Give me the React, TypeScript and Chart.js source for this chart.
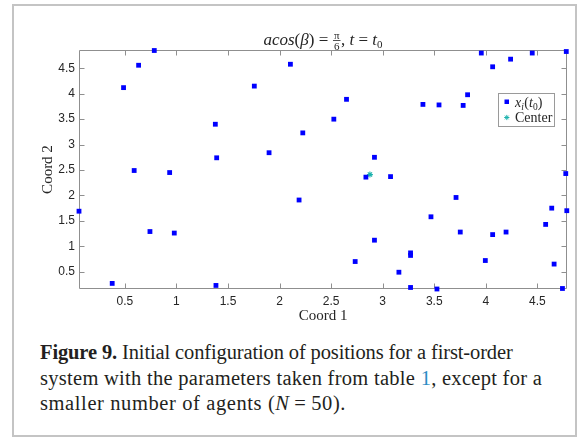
import React, { useEffect, useRef } from "react";
import { Chart, registerables } from "chart.js";

Chart.register(...registerables);

// ---- data ----
const agentX = [
  0.055, 0.377, 0.487, 0.633, 0.785, 0.59, 0.934, 1.377, 1.39, 0.743,
  0.979, 1.383, 2.105, 1.755, 2.649, 2.526, 2.225, 1.898, 2.92, 2.837,
  3.076, 2.189, 2.92, 2.733, 3.27, 3.27, 3.157, 3.27, 3.526, 3.468,
  3.711, 3.752, 3.995, 4.066, 4.196, 4.58, 4.639, 4.662, 4.743, 4.785,
  4.775, 3.39, 3.546, 3.78, 3.823, 3.956, 4.066, 4.24, 4.45, 4.78,
];
const agentY = [
  1.69, 0.27, 4.12, 4.56, 4.85, 2.49, 2.45, 3.4, 2.74, 1.29,
  1.26, 0.23, 4.58, 4.15, 3.89, 3.5, 3.23, 2.84, 2.75, 2.36,
  2.37, 1.91, 1.12, 0.7, 0.87, 0.82, 0.49, 0.19, 0.16, 1.58,
  1.96, 1.28, 0.72, 1.23, 1.28, 1.43, 1.75, 0.65, 0.17, 1.7,
  2.43, 3.79, 3.78, 3.77, 3.98, 4.8, 4.53, 4.68, 4.8, 4.83,
];
const centerX = [2.876];
const centerY = [2.41];

const xTicks = [0.5, 1, 1.5, 2, 2.5, 3, 3.5, 4, 4.5];
const yTicks = [0.5, 1, 1.5, 2, 2.5, 3, 3.5, 4, 4.5];
const xLimits = [0.055, 4.787];
const yLimits = [0.16, 4.86];

const xLabel = "Coord 1";
const yLabel = "Coord 2";
const legendAgents = "x";
const legendCenter = "Center";

const AXIS_COLOR = "#8f8f8f";
const TEXT_COLOR = "#262626";
const AGENT_COLOR = "#0000ff";
const CENTER_COLOR = "#1cb2ad";
const SERIF = '"Liberation Serif", "DejaVu Serif", serif';
const SANS = '"Liberation Sans", Arial, sans-serif';

const boxPlugin = {
  id: "boxTicks",
  beforeDatasetsDraw(chart: any) {
    const { ctx, chartArea: a, scales } = chart;
    const L = Math.round(a.left) + 0.5;
    const R = Math.round(a.right) - 0.5;
    const T = Math.round(a.top) + 0.5;
    const B = Math.round(a.bottom) - 0.5;
    ctx.save();
    ctx.strokeStyle = AXIS_COLOR;
    ctx.lineWidth = 1;
    ctx.beginPath();
    ctx.moveTo(L, T);
    ctx.lineTo(R, T);
    ctx.lineTo(R, B);
    ctx.lineTo(L, B);
    ctx.closePath();
    const len = 5;
    for (const v of xTicks) {
      const px = Math.round(scales.x.getPixelForValue(v)) + 0.5;
      ctx.moveTo(px, B);
      ctx.lineTo(px, B - len);
      ctx.moveTo(px, T);
      ctx.lineTo(px, T + len);
    }
    for (const v of yTicks) {
      const py = Math.round(scales.y.getPixelForValue(v)) + 0.5;
      ctx.moveTo(L, py);
      ctx.lineTo(L + len, py);
      ctx.moveTo(R, py);
      ctx.lineTo(R - len, py);
    }
    ctx.stroke();
    ctx.restore();
  },
  afterDraw(chart: any) {
    const { ctx, chartArea: a } = chart;
    ctx.save();
    ctx.fillStyle = TEXT_COLOR;
    ctx.textBaseline = "alphabetic";
    // ---- title: acos(β) = π/6, t = t0 ----
    const big = `italic 17px ${SERIF}`;
    const up = `17px ${SERIF}`;
    const small = `11px ${SERIF}`;
    const sub = `11px ${SERIF}`;
    const parts: any[] = [
      { t: "acos", f: big },
      { t: "(", f: up },
      { t: "β", f: big },
      { t: ")", f: up },
      { t: " = ", f: up },
      { frac: ["π", "6"] },
      { t: ", ", f: up },
      { t: "t", f: big },
      { t: " = ", f: up },
      { t: "t", f: big },
      { t: "0", f: sub, sub: true },
    ];
    let total = 0;
    for (const p of parts) {
      if (p.frac) {
        ctx.font = small;
        p.w = Math.max(ctx.measureText(p.frac[0]).width, ctx.measureText(p.frac[1]).width) + 3;
      } else {
        ctx.font = p.f;
        p.w = ctx.measureText(p.t).width;
      }
      total += p.w;
    }
    const cx = (a.left + a.right) / 2;
    let x = cx - total / 2;
    const base = 45;
    for (const p of parts) {
      if (p.frac) {
        ctx.font = small;
        ctx.textAlign = "center";
        const mx = x + p.w / 2;
        ctx.fillText(p.frac[0], mx, base - 6.5);
        ctx.fillText(p.frac[1], mx, base + 4.5);
        ctx.fillRect(x + 0.5, base - 5, p.w - 1, 0.8);
        ctx.textAlign = "left";
      } else {
        ctx.font = p.f;
        ctx.textAlign = "left";
        ctx.fillText(p.t, x, p.sub ? base + 3 : base);
      }
      x += p.w;
    }
    // ---- legend ----
    const lx = 498, ly = 93, lw = 56, lh = 33;
    ctx.fillStyle = "#ffffff";
    ctx.fillRect(lx, ly, lw, lh);
    ctx.strokeStyle = "#9a9a9a";
    ctx.lineWidth = 1;
    ctx.strokeRect(lx + 0.5, ly + 0.5, lw, lh);
    // row 1 marker
    ctx.fillStyle = AGENT_COLOR;
    ctx.fillRect(504.5, 99.5, 4.5, 4.5);
    // row 1 text: x_i(t_0)
    ctx.fillStyle = TEXT_COLOR;
    let tx = 515;
    const rb1 = 106.5;
    ctx.font = `italic 14px ${SERIF}`;
    ctx.fillText(legendAgents, tx, rb1);
    tx += ctx.measureText(legendAgents).width;
    ctx.font = `italic 9.5px ${SERIF}`;
    ctx.fillText("i", tx, rb1 + 3);
    tx += ctx.measureText("i").width + 0.5;
    ctx.font = `14px ${SERIF}`;
    ctx.fillText("(", tx, rb1);
    tx += ctx.measureText("(").width;
    ctx.font = `italic 14px ${SERIF}`;
    ctx.fillText("t", tx, rb1);
    tx += ctx.measureText("t").width;
    ctx.font = `9.5px ${SERIF}`;
    ctx.fillText("0", tx, rb1 + 3);
    tx += ctx.measureText("0").width;
    ctx.font = `14px ${SERIF}`;
    ctx.fillText(")", tx, rb1);
    // row 2 marker (star)
    ctx.strokeStyle = CENTER_COLOR;
    ctx.lineWidth = 1;
    const sx = 506.8, sy = 117.5;
    ctx.beginPath();
    for (let k = 0; k < 4; k++) {
      const ang = (k * Math.PI) / 4;
      ctx.moveTo(sx - 2.6 * Math.cos(ang), sy - 2.6 * Math.sin(ang));
      ctx.lineTo(sx + 2.6 * Math.cos(ang), sy + 2.6 * Math.sin(ang));
    }
    ctx.stroke();
    ctx.fillStyle = TEXT_COLOR;
    ctx.font = `14px ${SERIF}`;
    ctx.fillText(legendCenter, 515, 122);
    ctx.restore();
  },
};

function App() {
  const ref = useRef<HTMLCanvasElement | null>(null);
  useEffect(() => {
    if (!ref.current) return;
    const chart = new Chart(ref.current, {
      type: "scatter",
      data: {
        datasets: [
          {
            label: "agents",
            data: agentX.map((x, i) => ({ x, y: agentY[i] })),
            pointStyle: "rect",
            pointRadius: 3.4,
            pointHoverRadius: 3.4,
            backgroundColor: AGENT_COLOR,
            borderColor: AGENT_COLOR,
            borderWidth: 0,
            clip: false,
          } as any,
          {
            label: "Center",
            data: centerX.map((x, i) => ({ x, y: centerY[i] })),
            pointStyle: "star",
            pointRadius: 3,
            pointHoverRadius: 3,
            backgroundColor: CENTER_COLOR,
            borderColor: CENTER_COLOR,
            borderWidth: 1.1,
            clip: false,
          } as any,
        ],
      },
      options: {
        animation: false,
        responsive: false,
        events: [],
        layout: { padding: { left: 39, right: 14, top: 50, bottom: 10 } },
        plugins: { legend: { display: false }, title: { display: false }, tooltip: { enabled: false } },
        scales: {
          x: {
            type: "linear",
            min: xLimits[0],
            max: xLimits[1],
            grid: { display: false, drawTicks: false },
            border: { display: false },
            afterBuildTicks: (s: any) => {
              s.ticks = xTicks.map((v) => ({ value: v }));
            },
            afterFit: (s: any) => {
              s.height = 36;
            },
            ticks: {
              padding: 5,
              color: TEXT_COLOR,
              font: { family: SANS, size: 12 },
              maxRotation: 0,
              autoSkip: false,
              callback: (v: any) => String(v),
            },
            title: {
              display: true,
              text: xLabel,
              color: TEXT_COLOR,
              font: { family: SERIF, size: 15 },
              padding: 0,
            },
          },
          y: {
            type: "linear",
            min: yLimits[0],
            max: yLimits[1],
            grid: { display: false, drawTicks: false },
            border: { display: false },
            afterBuildTicks: (s: any) => {
              s.ticks = yTicks.map((v) => ({ value: v }));
            },
            afterFit: (s: any) => {
              s.width = 40;
            },
            ticks: {
              padding: 4,
              color: TEXT_COLOR,
              font: { family: SANS, size: 12 },
              autoSkip: false,
              callback: (v: any) => String(v),
            },
            title: {
              display: true,
              text: yLabel,
              color: TEXT_COLOR,
              font: { family: SERIF, size: 15 },
              padding: 0,
            },
          },
        },
      },
      plugins: [boxPlugin],
    } as any);
    return () => chart.destroy();
  }, []);

  const lineStyle = (ls: number): React.CSSProperties => ({ display: "block", letterSpacing: `${ls}px` });

  return (
    <div style={{ position: "absolute", left: 0, top: 0, width: 581, height: 441, background: "#fff" }}>
      <div
        style={{
          position: "absolute",
          left: 12,
          top: 4,
          width: 561,
          height: 429,
          border: "2px solid #c4c4c4",
        }}
      />
      <canvas ref={ref} width={581} height={335} style={{ position: "absolute", left: 0, top: 0, width: 581, height: 335 }} />
      <div
        style={{
          position: "absolute",
          left: 40,
          top: 340,
          fontFamily: SERIF,
          fontSize: 20.5,
          lineHeight: "25.5px",
          color: "#231f20",
          whiteSpace: "nowrap",
        }}
      >
        <span style={lineStyle(-0.13)}>
          <b>Figure 9.</b> Initial configuration of positions for a first-order
        </span>
        <span style={lineStyle(0.28)}>
          system with the parameters taken from table <span style={{ color: "#2b8cc4" }}>1</span>, except for a
        </span>
        <span style={lineStyle(0.6)}>
          smaller number of agents (<i>N</i>{"\u2009=\u2009"}50).
        </span>
      </div>
    </div>
  );
}

export default App;
